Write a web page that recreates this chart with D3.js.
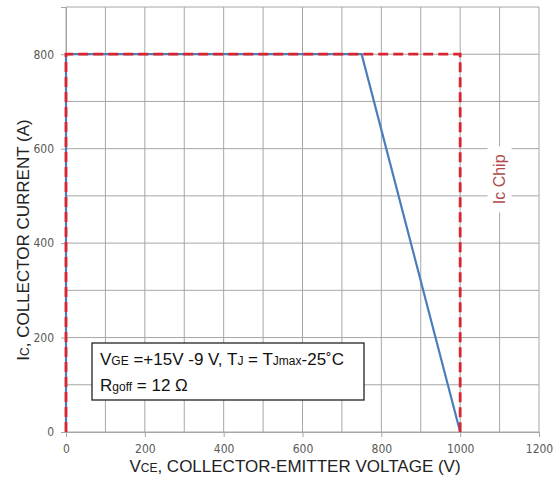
<!DOCTYPE html>
<html><head><meta charset="utf-8">
<script src="https://cdn.jsdelivr.net/npm/d3@7"></script>
<style>body{margin:0;background:#fff}</style>
</head><body><svg id="c" width="558" height="483"></svg>
<script>
const xTicks = [0,200,400,600,800,1000,1200];
const yTicks = [0,200,400,600,800];
const xGrid = [0,100,200,300,400,500,600,700,800,900,1000,1100,1200];
const yGrid = [0,100,200,300,400,500,600,700,800,900];
const rbsoaV = [0,0,750,1000];
const rbsoaI = [0,800,800,0];
const chipV = [0,0,1000,1000];
const chipI = [0,800,800,0];

const svg = d3.select('#c');
const x = d3.scaleLinear().domain([0,1200]).range([66,539]);
const y = d3.scaleLinear().domain([0,900]).range([432,7]);

const g = svg.append('g');
g.selectAll('.vg').data(xGrid).join('line')
  .attr('x1',d=>x(d)).attr('x2',d=>x(d)).attr('y1',y(0)).attr('y2',y(900))
  .attr('stroke','#a6a6a6').attr('stroke-width',1);
g.selectAll('.hg').data(yGrid).join('line')
  .attr('y1',d=>y(d)).attr('y2',d=>y(d)).attr('x1',x(0)).attr('x2',x(1200))
  .attr('stroke','#a6a6a6').attr('stroke-width',1);

const fmt = d3.format('d');
const xa = svg.append('g').attr('transform',`translate(0,${y(0)})`)
  .call(d3.axisBottom(x).tickValues(xTicks).tickFormat(fmt).tickSize(5).tickPadding(7));
const ya = svg.append('g').attr('transform',`translate(${x(0)},0)`)
  .call(d3.axisLeft(y).tickValues(yTicks).tickFormat(fmt).tickSize(5).tickPadding(7));
[xa,ya].forEach(a=>{
  a.select('.domain').attr('stroke','#a6a6a6');
  a.selectAll('.tick line').attr('stroke','#a6a6a6');
  a.selectAll('text').attr('fill','#595959').style('font-family','"Liberation Sans Narrow","DejaVu Sans Condensed",sans-serif').style('font-size','12px');
});

// Ic Chip label
const lx = x(1100), ly = y(535);
const lab = svg.append('g').attr('transform',`translate(${lx},${ly}) rotate(-90)`);
lab.append('rect').attr('x',-33).attr('y',-12).attr('width',66).attr('height',24).attr('fill','#fff');
lab.append('text').attr('text-anchor','middle').attr('dy','0.35em')
  .attr('fill','#b04a4a').style('font-family','Liberation Sans, Arial, sans-serif').style('font-size','16px').text('Ic Chip');

const line = d3.line().x(d=>x(d[0])).y(d=>y(d[1]));
svg.append('path').datum(rbsoaV.map((v,i)=>[v,rbsoaI[i]])).attr('d',line)
  .attr('fill','none').attr('stroke','#4a7ebb').attr('stroke-width',2.2);
svg.append('path').datum(chipV.map((v,i)=>[v,chipI[i]])).attr('d',line)
  .attr('fill','none').attr('stroke','#d9252f').attr('stroke-width',2.8).attr('stroke-dasharray','10,5');

// legend box
const bx=92, by=343;
svg.append('rect').attr('x',bx).attr('y',by).attr('width',272).attr('height',57)
  .attr('fill','#fff').attr('stroke','#222').attr('stroke-width',1.3);
const font='Liberation Sans, Arial, sans-serif';
const t1 = svg.append('text').attr('x',bx+8).attr('y',by+22).style('font-family',font).style('font-size','17px').attr('fill','#111');
t1.append('tspan').text('V');
t1.append('tspan').style('font-size','12px').text('GE');
t1.append('tspan').text(' =+15V -9 V, T');
t1.append('tspan').style('font-size','12px').text('J');
t1.append('tspan').text(' = T');
t1.append('tspan').style('font-size','12px').text('Jmax');
t1.append('tspan').text('-25˚C');
const t2 = svg.append('text').attr('x',bx+8).attr('y',by+48).style('font-family',font).style('font-size','17px').attr('fill','#111');
t2.append('tspan').text('R');
t2.append('tspan').style('font-size','12px').text('goff');
t2.append('tspan').text(' = 12 Ω');

// axis titles
const xt = svg.append('text').attr('x',295).attr('y',472).attr('text-anchor','middle')
  .style('font-family',font).style('font-size','17px').attr('fill','#222');
xt.append('tspan').text('V');
xt.append('tspan').style('font-size','12px').text('CE');
xt.append('tspan').text(', COLLECTOR-EMITTER VOLTAGE (V)');
const yt = svg.append('text').attr('transform',`translate(29,240) rotate(-90)`).attr('text-anchor','middle')
  .style('font-family',font).style('font-size','17px').attr('fill','#222');
yt.append('tspan').text('I');
yt.append('tspan').style('font-size','12px').text('C');
yt.append('tspan').text(', COLLECTOR CURRENT (A)');
</script></body></html>
